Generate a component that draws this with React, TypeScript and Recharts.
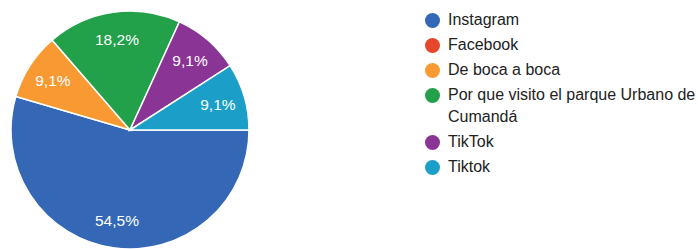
import { PieChart, Pie, Cell, Legend } from 'recharts'

const sources = ['Instagram', 'Facebook', 'De boca a boca', 'Por que visito el parque Urbano de Cumandá', 'TikTok', 'Tiktok']
const answers = [6, 0, 1, 2, 1, 1]
const colors = ['#3467b6', '#e6472b', '#f89a31', '#22a14a', '#8a3596', '#1b9ec7']

const data = sources.map((name, i) => ({ name, value: answers[i] }))

const RAD = Math.PI / 180
const font = "Arial, 'Liberation Sans', sans-serif"

function SliceLabel(props: any) {
  const { cx, cy, midAngle, outerRadius, percent, value } = props
  if (!value) return null
  const r = outerRadius * 0.77
  const x = cx + r * Math.cos(-midAngle * RAD)
  const y = cy + r * Math.sin(-midAngle * RAD)
  return (
    <text x={x} y={y} fill="#fff" fontSize={15.5} fontFamily={font} textAnchor="middle" dominantBaseline="central">
      {(percent * 100).toFixed(1).replace('.', ',')}%
    </text>
  )
}

function LegendList() {
  return (
    <ul style={{ listStyle: 'none', margin: 0, padding: 0, fontFamily: font, fontSize: 16, color: '#222' }}>
      {sources.map((s, i) => (
        <li key={s} style={{ display: 'flex', alignItems: 'flex-start', lineHeight: '22px', marginBottom: 3 }}>
          <span style={{ width: 15, height: 15, borderRadius: '50%', background: colors[i], flex: '0 0 auto', marginTop: 4, marginRight: 8 }} />
          <span style={{ width: 250 }}>{s}</span>
        </li>
      ))}
    </ul>
  )
}

export default function App() {
  return (
    <div style={{ position: 'absolute', left: 0, top: 0 }}>
      <PieChart width={698} height={249} margin={{ top: 0, right: 0, bottom: 0, left: 0 }}>
        <Pie
          data={data}
          dataKey="value"
          nameKey="name"
          cx={130}
          cy={130}
          outerRadius={119}
          startAngle={0}
          endAngle={-360}
          stroke="#fff"
          strokeWidth={1.5}
          label={SliceLabel}
          labelLine={false}
          isAnimationActive={false}
        >
          {data.map((d, i) => (
            <Cell key={d.name} fill={colors[i]} />
          ))}
        </Pie>
        <Legend
          layout="vertical"
          align="right"
          verticalAlign="top"
          content={() => <LegendList />}
          wrapperStyle={{ left: 425, top: 9, width: 273 }}
        />
      </PieChart>
    </div>
  )
}
